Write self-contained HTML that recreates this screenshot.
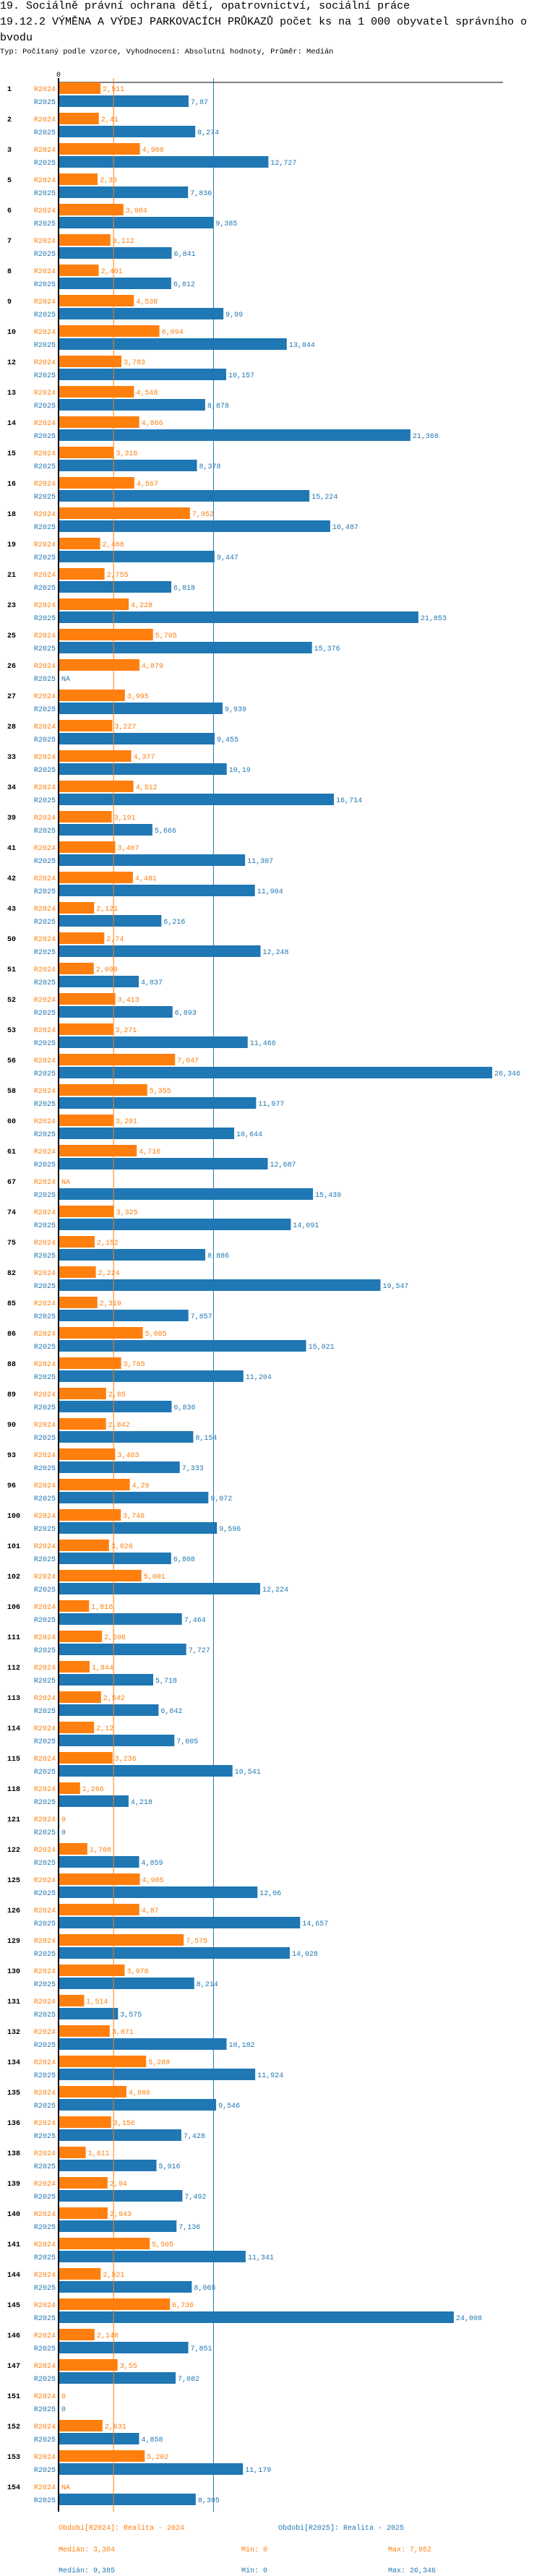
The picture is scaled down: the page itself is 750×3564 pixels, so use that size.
<!DOCTYPE html>
<html><head><meta charset="utf-8">
<style>
html,body{margin:0;padding:0;background:#fff;}
body{width:750px;height:3564px;overflow:hidden;position:relative;font-family:"Liberation Mono",monospace;}
.t{position:absolute;left:0;white-space:nowrap;color:#000;}
svg{position:absolute;left:0;top:0;}
</style></head><body>
<div class="t" style="top:0px;font-size:15px;line-height:17px;">19. Sociálně právní ochrana dětí, opatrovnictví, sociální práce</div>
<div class="t" style="top:22px;font-size:15px;line-height:17px;">19.12.2 VÝMĚNA A VÝDEJ PARKOVACÍCH PRŮKAZŮ počet ks na 1 000 obyvatel správního o</div>
<div class="t" style="top:44px;font-size:15px;line-height:17px;">bvodu</div>
<div class="t" style="top:66px;font-size:10.4px;line-height:13px;">Typ: Počítaný podle vzorce, Vyhodnocení: Absolutní hodnoty, Průměr: Medián</div>
<svg id="chart" width="750" height="3564" xmlns="http://www.w3.org/2000/svg" font-family="Liberation Mono, monospace" font-size="10"></svg>
<script>
const categories=["1","2","3","5","6","7","8","9","10","12","13","14","15","16","18","19","21","23","25","26","27","28","33","34","39","41","42","43","50","51","52","53","56","58","60","61","67","74","75","82","85","86","88","89","90","93","96","100","101","102","106","111","112","113","114","115","118","121","122","125","126","129","130","131","132","134","135","136","138","139","140","141","144","145","146","147","151","152","153","154"];
const values2024=[2.511,2.41,4.908,2.33,3.904,3.112,2.401,4.538,6.094,3.783,4.548,4.866,3.316,4.567,7.952,2.488,2.755,4.228,5.705,4.879,3.995,3.227,4.377,4.512,3.191,3.407,4.481,2.121,2.74,2.099,3.413,3.271,7.047,5.355,3.291,4.716,null,3.325,2.152,2.224,2.319,5.085,3.765,2.85,2.842,3.403,4.29,3.746,3.026,5.001,1.816,2.596,1.844,2.542,2.12,3.236,1.266,0,1.708,4.905,4.87,7.575,3.978,1.514,3.071,5.288,4.086,3.156,1.611,2.94,2.943,5.505,2.521,6.736,2.148,3.55,0,2.631,5.202,null];
const values2025=[7.87,8.274,12.727,7.836,9.385,6.841,6.812,9.99,13.844,10.157,8.878,21.368,8.378,15.224,16.487,9.447,6.818,21.853,15.376,null,9.939,9.455,10.19,16.714,5.666,11.307,11.904,6.216,12.248,4.837,6.893,11.466,26.346,11.977,10.644,12.687,15.439,14.091,8.886,19.547,7.857,15.021,11.204,6.836,8.154,7.333,9.072,9.596,6.808,12.224,7.464,7.727,5.718,6.042,7.005,10.541,4.218,0,4.859,12.06,14.657,14.028,8.214,3.575,10.182,11.924,9.546,7.428,5.916,7.492,7.136,11.341,8.065,24.008,7.851,7.082,0,4.858,11.179,8.305];
const seriesLabels=["R2024","R2025"];
const medians=[3.304,9.385];
const mins=[0,0];
const maxs=[7.952,26.346];
const legendTitles=["Období[R2024]: Realita - 2024","Období[R2025]: Realita - 2025"];

const colors=["#ff7f0e","#1f77b4"];
const X0=82, PX=22.74, TOP=114, PITCH=42, BH=16, BOTTOM=3475;
const x=v=>X0+v*PX;
const svg=document.getElementById('chart');
const NS="http://www.w3.org/2000/svg";
function mk(tag,attrs,text){const e=document.createElementNS(NS,tag);for(const k in attrs)e.setAttribute(k,attrs[k]);if(text!==undefined)e.textContent=text;svg.appendChild(e);return e;}
const fmt=v=>v===null?"NA":String(v).replace('.',',');

let e;
e=mk('line',{x1:81,y1:TOP,x2:696,y2:TOP,stroke:'#000','stroke-width':1});


e=mk('text',{x:81,y:106,'text-anchor':'middle',fill:'#000'},'0');



const seriesVals=[values2024,values2025];
categories.forEach((c,i)=>{
  const gy=TOP+PITCH*i;
  e=mk('text',{x:10,y:gy+12,'font-weight':'bold',fill:'#000'},c);
  
  
  for(let s=0;s<2;s++){
    const by=gy+s*18;
    const v=seriesVals[s][i];
    e=mk('text',{x:77,y:by+12,'text-anchor':'end',fill:colors[s]},seriesLabels[s]);
    
    
    let end=X0;
    if(v!==null&&v>0){
      e=mk('rect',{x:X0,y:by,width:v*PX,height:BH,fill:colors[s]});
      
      
      end=x(v);
    }
    e=mk('text',{x:end+3,y:by+12,fill:colors[s]},fmt(v));
    
    
  }
});
for(let s=0;s<2;s++){
  e=mk('line',{x1:x(medians[s]),y1:108,x2:x(medians[s]),y2:BOTTOM,stroke:colors[s],'stroke-width':1});
  
  
}
e=mk('line',{x1:81,y1:108,x2:81,y2:BOTTOM,stroke:'#000','stroke-width':2});



e=mk('text',{x:81,y:3500,fill:colors[0]},legendTitles[0]);


e=mk('text',{x:385,y:3500,fill:colors[1]},legendTitles[1]);


for(let s=0;s<2;s++){
  const y=3530+s*29;
  e=mk('text',{x:81,y:y,fill:colors[s]},'Medián: '+fmt(medians[s]));
  
  
  e=mk('text',{x:334,y:y,fill:colors[s]},'Min: '+fmt(mins[s]));
  
  
  e=mk('text',{x:537,y:y,fill:colors[s]},'Max: '+fmt(maxs[s]));
  
  
}
</script>
</body></html>
